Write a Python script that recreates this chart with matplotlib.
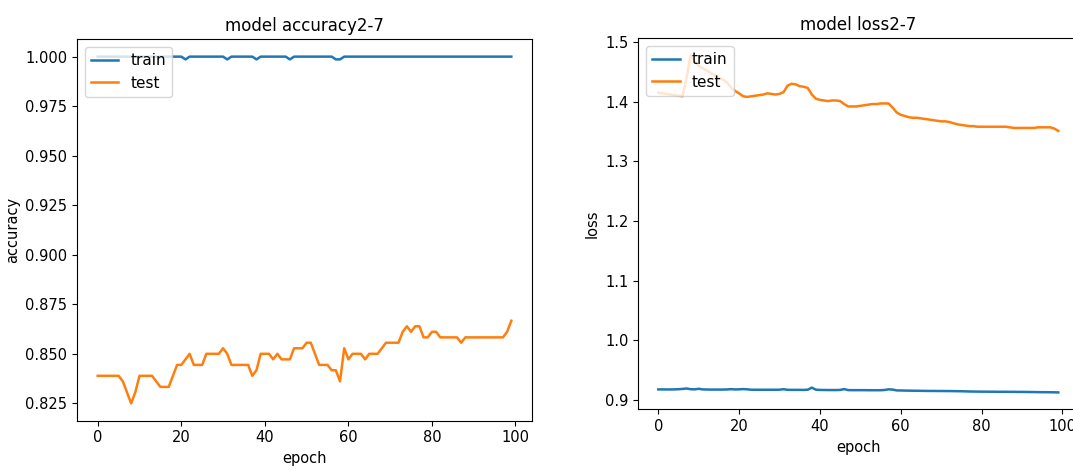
import matplotlib
matplotlib.use("Agg")
import matplotlib.pyplot as plt

plt.rcParams['font.family'] = ['DejaVu Sans']

# epochs 0..99
epochs = list(range(100))

# accuracy per epoch
acc_train = [1.0] * 100
for e in (21, 31, 38, 46, 57, 58):
    acc_train[e] = 0.9986

acc_test = [
    0.8389, 0.8389, 0.8389, 0.8389, 0.8389, 0.8389, 0.8361, 0.8306, 0.8250, 0.8306,
    0.8389, 0.8389, 0.8389, 0.8389, 0.8361, 0.8333, 0.8333, 0.8333, 0.8389, 0.8444,
    0.8444, 0.8472, 0.8500, 0.8444, 0.8444, 0.8444, 0.8500, 0.8500, 0.8500, 0.8500,
    0.8528, 0.8500, 0.8444, 0.8444, 0.8444, 0.8444, 0.8444, 0.8389, 0.8417, 0.8500,
    0.8500, 0.8500, 0.8472, 0.8500, 0.8472, 0.8472, 0.8472, 0.8528, 0.8528, 0.8528,
    0.8556, 0.8556, 0.8500, 0.8444, 0.8444, 0.8444, 0.8417, 0.8417, 0.8361, 0.8528,
    0.8472, 0.8500, 0.8500, 0.8500, 0.8472, 0.8500, 0.8500, 0.8500, 0.8528, 0.8556,
    0.8556, 0.8556, 0.8556, 0.8611, 0.8639, 0.8611, 0.8639, 0.8639, 0.8583, 0.8583,
    0.8611, 0.8611, 0.8583, 0.8583, 0.8583, 0.8583, 0.8583, 0.8556, 0.8583, 0.8583,
    0.8583, 0.8583, 0.8583, 0.8583, 0.8583, 0.8583, 0.8583, 0.8583, 0.8611, 0.8667,
]

# loss per epoch
loss_train = [
    0.9175, 0.9175, 0.9174, 0.9174, 0.9175, 0.9178, 0.9183, 0.9190, 0.9178, 0.9176,
    0.9185, 0.9175, 0.9173, 0.9172, 0.9172, 0.9172, 0.9172, 0.9174, 0.9179, 0.9174,
    0.9176, 0.9180, 0.9176, 0.9170, 0.9169, 0.9169, 0.9169, 0.9169, 0.9169, 0.9169,
    0.9170, 0.9178, 0.9168, 0.9167, 0.9167, 0.9167, 0.9166, 0.9170, 0.9205, 0.9170,
    0.9166, 0.9165, 0.9164, 0.9164, 0.9164, 0.9166, 0.9180, 0.9163, 0.9162, 0.9162,
    0.9162, 0.9162, 0.9161, 0.9161, 0.9161, 0.9161, 0.9165, 0.9176, 0.9172, 0.9158,
    0.9157, 0.9155, 0.9154, 0.9153, 0.9152, 0.9151, 0.9150, 0.9149, 0.9149, 0.9148,
    0.9148, 0.9147, 0.9147, 0.9146, 0.9145, 0.9144, 0.9142, 0.9140, 0.9139, 0.9138,
    0.9137, 0.9137, 0.9136, 0.9136, 0.9135, 0.9135, 0.9135, 0.9134, 0.9134, 0.9133,
    0.9133, 0.9132, 0.9131, 0.9130, 0.9129, 0.9128, 0.9128, 0.9127, 0.9126, 0.9124,
]

loss_test = [
    1.415, 1.414, 1.413, 1.412, 1.411, 1.410, 1.409, 1.440, 1.478, 1.468,
    1.460, 1.456, 1.452, 1.448, 1.444, 1.440, 1.437, 1.432, 1.424, 1.418,
    1.414, 1.409, 1.408, 1.409, 1.410, 1.411, 1.412, 1.414, 1.413, 1.412,
    1.413, 1.416, 1.427, 1.430, 1.429, 1.426, 1.425, 1.423, 1.412, 1.405,
    1.403, 1.402, 1.401, 1.402, 1.402, 1.401, 1.396, 1.392, 1.392, 1.392,
    1.393, 1.394, 1.395, 1.396, 1.396, 1.397, 1.397, 1.397, 1.390, 1.382,
    1.378, 1.376, 1.374, 1.373, 1.373, 1.372, 1.371, 1.370, 1.369, 1.368,
    1.367, 1.367, 1.366, 1.364, 1.362, 1.361, 1.360, 1.359, 1.359, 1.358,
    1.358, 1.358, 1.358, 1.358, 1.358, 1.358, 1.358, 1.357, 1.356, 1.356,
    1.356, 1.356, 1.356, 1.356, 1.357, 1.357, 1.357, 1.357, 1.355, 1.351,
]

fs = 10.5

fig = plt.figure(figsize=(10.73, 4.74), dpi=100)

# left: accuracy
ax1 = fig.add_axes([0.0718, 0.1125, 0.424, 0.8046])
ax1.plot(epochs, acc_train, label='train', lw=1.8)
ax1.plot(epochs, acc_test, label='test', lw=1.8)
ax1.set_title('model accuracy2-7', fontsize=12)
ax1.set_ylabel('accuracy', fontsize=fs)
ax1.set_xlabel('epoch', fontsize=fs)
ax1.set_yticks([0.825, 0.850, 0.875, 0.900, 0.925, 0.950, 0.975, 1.000])
ax1.tick_params(labelsize=fs)
ax1.legend(loc='upper left', fontsize=fs + 0.5, handlelength=1.8)

# right: loss
ax2 = fig.add_axes([0.5949, 0.1365, 0.410, 0.7827])
ax2.plot(epochs, loss_train, label='train', lw=1.8)
ax2.plot(epochs, loss_test, label='test', lw=1.8)
ax2.set_title('model loss2-7', fontsize=12)
ax2.set_ylabel('loss', fontsize=fs)
ax2.set_xlabel('epoch', fontsize=fs)
ax2.tick_params(labelsize=fs)
ax2.legend(loc='upper left', fontsize=fs + 0.5, handlelength=1.8)

fig.savefig('out.png', dpi=100)
